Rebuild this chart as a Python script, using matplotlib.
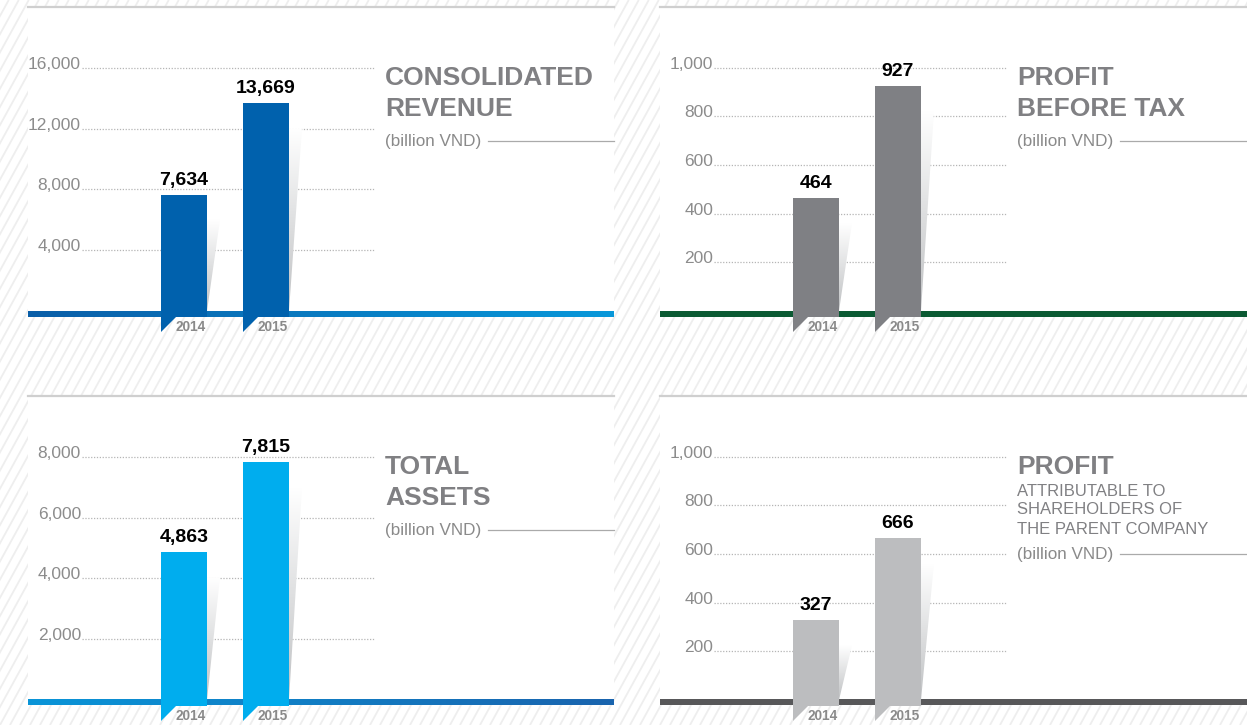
import numpy as np
import matplotlib
matplotlib.use("Agg")
import matplotlib.pyplot as plt
from matplotlib.collections import LineCollection
from matplotlib.colors import LinearSegmentedColormap
from matplotlib.patches import Polygon, Rectangle

plt.rcParams['font.family'] = ['Liberation Sans', 'DejaVu Sans']

# data
years = ['2014', '2015']
revenue = [7634, 13669]
profit_before_tax = [464, 927]
total_assets = [4863, 7815]
profit_parent = [327, 666]

revenue_ticks = [4000, 8000, 12000, 16000]
pbt_ticks = [200, 400, 600, 800, 1000]
assets_ticks = [2000, 4000, 6000, 8000]
parent_ticks = [200, 400, 600, 800, 1000]

W, H = 1247, 725
fig = plt.figure(figsize=(W / 100, H / 100), dpi=100)
fig.patch.set_facecolor('white')

bg = fig.add_axes([0, 0, 1, 1])
bg.set_xlim(0, W)
bg.set_ylim(H, 0)
bg.axis('off')

# diagonal hatching background
segs = [[(x0, H), (x0 + H * 0.55, 0)] for x0 in range(-500, W + 20, 10)]
bg.add_collection(LineCollection(segs, colors='#eeeeee', linewidths=1.3, zorder=0))

PX_UNIT = 82.0    # pixels per category step
AX_H = 304.0      # axes height in px
GRAY_TXT = '#808083'


def panel(x0, x1, zero, values, ticks, ymax, bar_color, base_colors, title, sub=None):
    top = zero - AX_H
    bg.add_patch(Rectangle((x0, top), x1 - x0, AX_H + 2, facecolor='white',
                           edgecolor='none', zorder=1))
    bg.plot([x0, x1], [top, top], color='#cfcfcf', lw=1.6, zorder=2)
    cmap = LinearSegmentedColormap.from_list('b', base_colors)
    bg.imshow(np.linspace(0, 1, 256)[None, :], cmap=cmap, aspect='auto',
              extent=[x0, x1, zero + 5.5, zero], zorder=2)

    ax = fig.add_axes([x0 / W, (H - zero) / H, (x1 - x0) / W, AX_H / H])
    ax.patch.set_alpha(0)
    ax.axis('off')
    xl = -156 / PX_UNIT
    ax.set_xlim(xl, xl + (x1 - x0) / PX_UNIT)
    ax.set_ylim(0, ymax)
    dy = ymax / AX_H          # data units per pixel
    dx = 1 / PX_UNIT

    # dotted gridlines + tick labels
    for t in ticks:
        ax.plot([-102 * dx, 191 * dx], [t, t], color='#b5b5b5', lw=0.9,
                ls=(0, (1, 1.3)), zorder=1)
        ax.text(-103 * dx, t - 1 * dy, f"{t:,}", ha='right', va='baseline',
                fontsize=12.5, color='#8c8c8c')

    xs = np.arange(len(years))
    bw = 46 * dx
    for i, v in zip(xs, values):
        right = i + bw / 2
        left = i - bw / 2
        # shadow
        shadow = Polygon([(right, v - 25 * dy), (right + 13 * dx, v - 25 * dy),
                          (right, 0)], closed=True, facecolor='none', edgecolor='none')
        ax.add_patch(shadow)
        grad = np.linspace(0, 1, 128)[:, None]
        scmap = LinearSegmentedColormap.from_list('s', ['#bfc1c3', '#ffffff'])
        im = ax.imshow(grad, cmap=scmap, aspect='auto', origin='lower',
                       extent=[right, right + 13 * dx, 0, v - 25 * dy], zorder=2)
        im.set_clip_path(shadow)
        # tag under the bar
        tag = Polygon([(left, 0), (right, 0), (right, -6 * dy), (left + 15 * dx, -6 * dy),
                       (left, -21 * dy)], closed=True, facecolor=bar_color,
                      edgecolor='none', clip_on=False, zorder=4)
        ax.add_patch(tag)
        ax.text(i + 7 * dx, -16 * dy, years[i], ha='center', va='center',
                fontsize=9.8, fontweight='bold', color='#8a8a8a', clip_on=False)
        ax.text(i, v + 10 * dy, f"{v:,}", ha='center', va='baseline', fontsize=14,
                fontweight='bold', color='black')
    ax.bar(xs, values, width=bw, color=bar_color, zorder=3)

    # titles
    tx = x0 + 357
    for k, line in enumerate(title):
        bg.text(tx, top + 71 + 31 * k, line, fontsize=19, fontweight='bold',
                color=GRAY_TXT, va='center', ha='left', zorder=5)
    y = top + 71 + 31 * (len(title) - 1)
    if sub:
        y += 5
        for line in sub:
            y += 19
            bg.text(tx, y, line, fontsize=12, color=GRAY_TXT, va='center', ha='left',
                    zorder=5)
        y += 25
    else:
        y += 32
    bg.text(tx, y, '(billion VND)', fontsize=12.3, color='#8a8a8a', va='center',
            ha='left', zorder=5)
    bg.plot([tx + 103, x1], [y, y], color='#aaaaaa', lw=0.9, zorder=5)


panel(28, 614, 311, revenue, revenue_ticks, 20000, '#0061ad',
      ['#0a5ea8', '#0898da'], ['CONSOLIDATED', 'REVENUE'])
panel(660, 1247, 311, profit_before_tax, pbt_ticks, 1250, '#7f8084',
      ['#0b5a33', '#0b5a33'], ['PROFIT', 'BEFORE TAX'])
panel(28, 614, 700, total_assets, assets_ticks, 10000, '#00adee',
      ['#0a95d8', '#1a64ae'], ['TOTAL', 'ASSETS'])
panel(660, 1247, 700, profit_parent, parent_ticks, 1250, '#bcbdbf',
      ['#58585a', '#58585a'], ['PROFIT'],
      sub=['ATTRIBUTABLE TO', 'SHAREHOLDERS OF', 'THE PARENT COMPANY'])

fig.savefig('out.png', dpi=100)
